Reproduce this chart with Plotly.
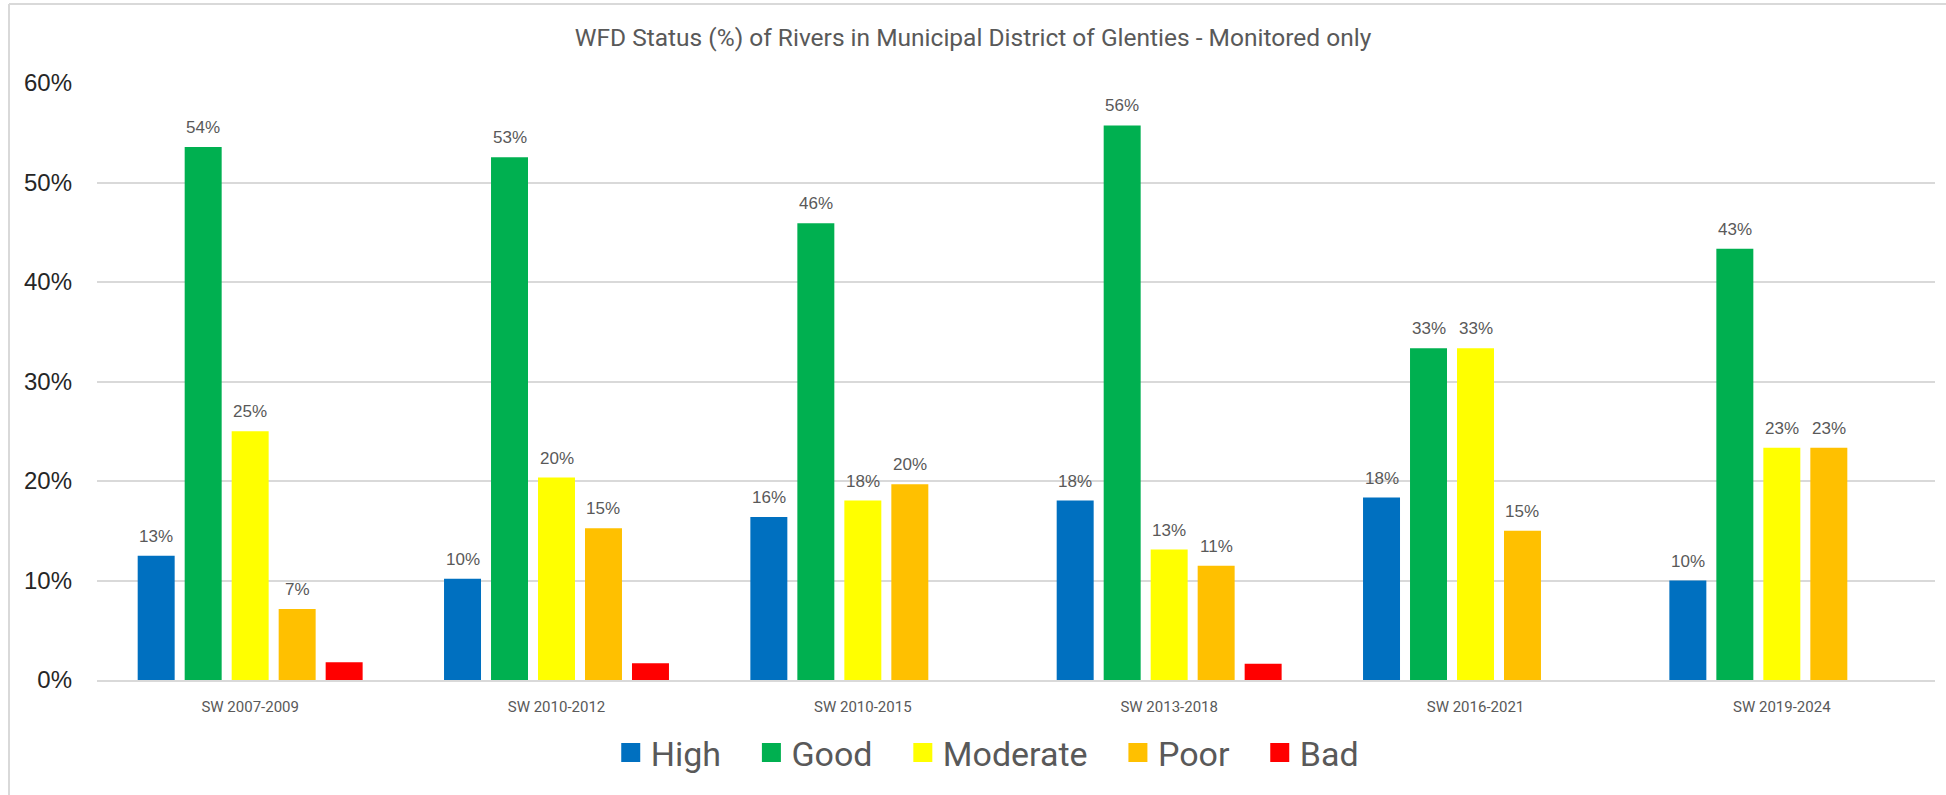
import plotly.graph_objects as go

categories = ["SW 2007-2009", "SW 2010-2012", "SW 2010-2015", "SW 2013-2018", "SW 2016-2021", "SW 2019-2024"]
high = [0.125, 0.1017, 0.1639, 0.1803, 0.1833, 0.10]
good = [0.5357, 0.5254, 0.4590, 0.5574, 0.3333, 0.4333]
moderate = [0.25, 0.2034, 0.1803, 0.1311, 0.3333, 0.2333]
poor = [0.0714, 0.1525, 0.1967, 0.1148, 0.15, 0.2333]
bad = [0.0179, 0.0169, None, 0.0164, None, None]

series = [
    ("High", high, "#0070C0", True),
    ("Good", good, "#00B050", True),
    ("Moderate", moderate, "#FFFF00", True),
    ("Poor", poor, "#FFC000", True),
    ("Bad", bad, "#FF0000", False),
]

W, H = 1946, 795
ML, MR, MT, MB = 97, 11, 83, 115
PW = W - ML - MR
PH = H - MT - MB
BARGAP = 0.233
BARGROUPGAP = 0.213

fig = go.Figure()
for name, vals, color, lab in series:
    fig.add_trace(go.Bar(
        x=categories, y=vals, name=name, marker_color=color,
        marker_line_width=0, showlegend=False,
    ))
NBSP = "\u00a0"
for name, vals, color, lab in series:
    fig.add_trace(go.Scatter(
        x=[None], y=[None], mode="markers", name=name + NBSP * 3,
        marker=dict(symbol="square", size=16, color=color,
                    line=dict(color=color, width=3)),
        showlegend=True,
    ))

# data labels above the bars (offset by group slot)
cat_w = PW / len(categories)
slot = cat_w * (1 - BARGAP) / len(series)
for i, (name, vals, color, lab) in enumerate(series):
    if not lab:
        continue
    for c, v in zip(categories, vals):
        if v is None:
            continue
        fig.add_annotation(
            x=c, y=v, xref="x", yref="y", text=f"{int(v * 100 + 0.5)}%",
            showarrow=False, yanchor="bottom", xanchor="center",
            xshift=(i - (len(series) - 1) / 2) * slot, yshift=8,
            font=dict(family="Liberation Sans, Arial", size=17, color="#595959"),
        )

def px_x(p):
    return (p - ML) / PW

def px_y(p):
    return (H - MB - p) / PH

fig.add_shape(type="line", xref="paper", yref="paper",
              x0=px_x(9), x1=px_x(9), y0=px_y(H), y1=px_y(4),
              line=dict(color="#d9d9d9", width=2))
fig.add_shape(type="line", xref="paper", yref="paper",
              x0=px_x(9), x1=px_x(W), y0=px_y(4), y1=px_y(4),
              line=dict(color="#d9d9d9", width=2))

fig.update_layout(
    width=W, height=H,
    margin=dict(l=ML, r=MR, t=MT, b=MB, autoexpand=False),
    paper_bgcolor="white", plot_bgcolor="white",
    barmode="group", bargap=BARGAP, bargroupgap=BARGROUPGAP,
    title=dict(text="WFD Status (%) of Rivers in Municipal District of Glenties - Monitored only",
               x=0.5, xref="container", xanchor="center",
               y=1 - 37 / H, yref="container", yanchor="middle",
               font=dict(family="Roboto", size=24.5, color="#595959")),
    legend=dict(orientation="h", x=0.514, xref="container", xanchor="center",
                y=1 - 753 / H, yref="container", yanchor="middle",
                font=dict(family="Roboto", size=34, color="#595959"),
                itemsizing="trace"),
    xaxis=dict(showgrid=False, showline=True, linecolor="#d9d9d9", linewidth=2,
               ticks="", tickfont=dict(family="Roboto", size=15, color="#595959"),
               ticklabelstandoff=12, automargin=False),
    yaxis=dict(range=[0, 0.6], dtick=0.1, tickformat=".0%",
               showgrid=True, gridcolor="#d9d9d9", gridwidth=1.5,
               zeroline=False, showline=False, ticks="",
               tickfont=dict(family="Liberation Sans, Arial", size=24, color="#262626"),
               ticklabelstandoff=24, automargin=False),
    hovermode=False,
)

fig.write_html("out.html", config={"displayModeBar": False},
               post_script="document.body.style.margin='0';document.body.style.overflow='hidden';")
